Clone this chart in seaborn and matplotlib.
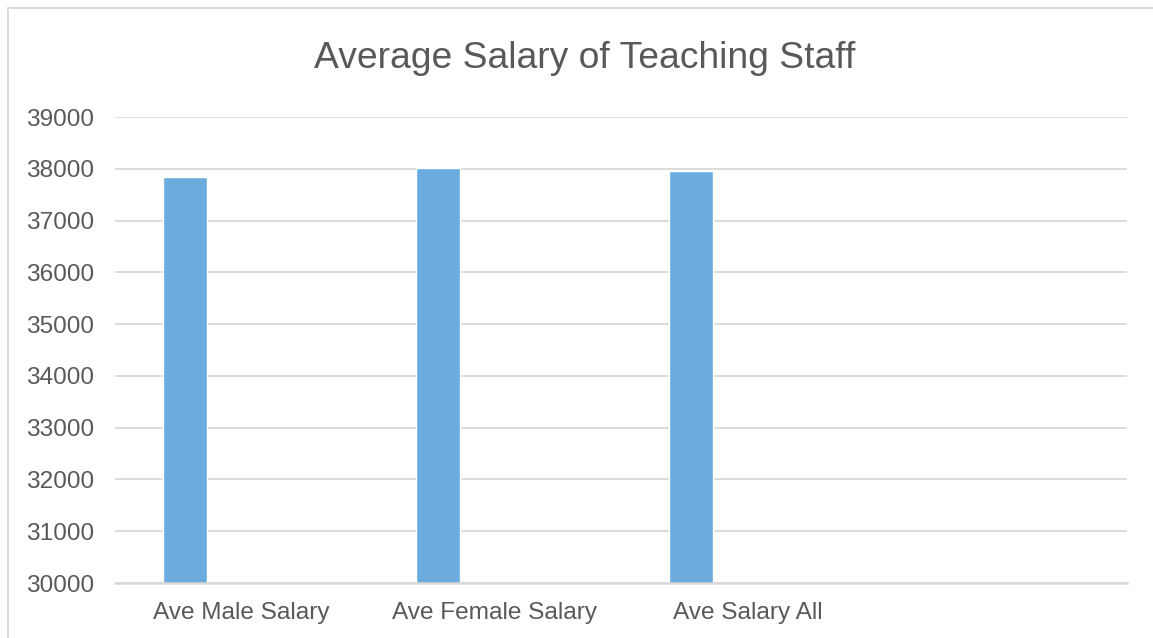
import matplotlib
matplotlib.use("Agg")
from matplotlib import pyplot as plt
from matplotlib.patches import Rectangle
import pandas as pd
import seaborn as sns

# data
categories = ["Ave Male Salary", "Ave Female Salary", "Ave Salary All"]
salaries = [37840, 38015, 37950]
slot_order = categories + [" "]   # fourth (empty) category slot
y_ticks = list(range(30000, 40000, 1000))

bar_color = "#6BABDD"
text_color = "#595959"
grid_color = "#D9D9D9"

df = pd.DataFrame({"Category": categories, "Salary": salaries})

sns.set_theme(style="white")
plt.rcParams["font.family"] = ["Liberation Sans", "DejaVu Sans"]

fig = plt.figure(figsize=(11.53, 6.38), dpi=100)
ax = fig.add_axes([115 / 1153, 1 - 583 / 638, 1012 / 1153, 466 / 638])

sns.barplot(data=df, x="Category", y="Salary", order=slot_order,
            color=bar_color, width=0.174, saturation=1, ax=ax, zorder=3)

# bars sit left of the slot centre, as in the Excel original
shift = 0.277
ax.set_xlim(-shift, 4 - shift)
ax.set_xticks([i + 0.5 - shift for i in range(len(categories))])
ax.set_xticklabels(categories)
ax.set_ylim(30000, 39000)
ax.set_yticks(y_ticks)

ax.yaxis.grid(True, color=grid_color, linewidth=1.3, zorder=0)
for side in ["top", "right", "left"]:
    ax.spines[side].set_visible(False)
ax.spines["bottom"].set_color(grid_color)
ax.spines["bottom"].set_linewidth(1.8)
ax.spines["bottom"].set_zorder(4)

ax.tick_params(axis="both", length=0, labelsize=17.6, labelcolor=text_color)
ax.tick_params(axis="y", pad=15)
ax.tick_params(axis="x", pad=14)
ax.set_xlabel("")
ax.set_ylabel("")

fig.text(585 / 1153, 1 - 58 / 638, "Average Salary of Teaching Staff",
         ha="center", va="center", fontsize=26.8, color=text_color)

# chart area border
fig.patches.append(Rectangle((8 / 1153, -0.01), 1.02, 1 - 7.5 / 638 + 0.01,
                             transform=fig.transFigure, fill=False,
                             edgecolor=grid_color, linewidth=1.3))

fig.savefig("out.png", dpi=100)
